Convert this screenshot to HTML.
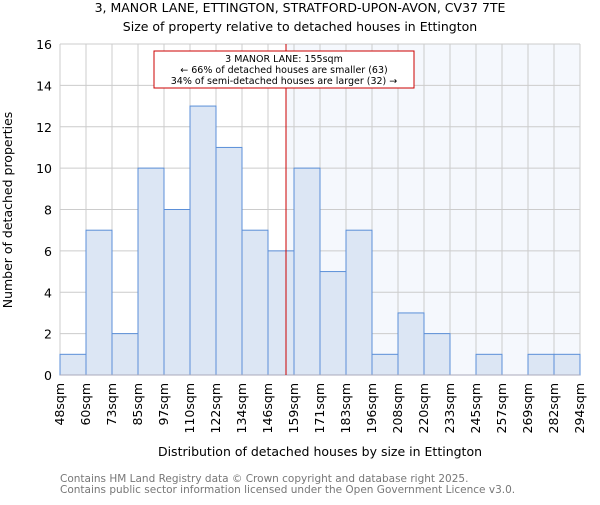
<!DOCTYPE html>
<html><head><meta charset="utf-8"><style>body{margin:0;background:#fff}svg{font-family:"DejaVu Sans","Liberation Sans",sans-serif}</style></head>
<body>
<svg id="chart" width="600" height="500">
<text x="300" y="12" text-anchor="middle" font-size="12.5">3, MANOR LANE, ETTINGTON, STRATFORD-UPON-AVON, CV37 7TE</text>
<text x="300" y="31" text-anchor="middle" font-size="12.5">Size of property relative to detached houses in Ettington</text>
<g id="g"></g>
<text x="12" y="210" transform="rotate(-90 12 210)" text-anchor="middle" font-size="12.5">Number of detached properties</text>
<text x="320" y="456" text-anchor="middle" font-size="12.5">Distribution of detached houses by size in Ettington</text>
<text x="60" y="482" font-size="10.5" fill="#777">Contains HM Land Registry data © Crown copyright and database right 2025.</text>
<text x="60" y="493" font-size="10.5" fill="#777">Contains public sector information licensed under the Open Government Licence v3.0.</text>
</svg>
<script>
const labels=["48sqm","60sqm","73sqm","85sqm","97sqm","110sqm","122sqm","134sqm","146sqm","159sqm","171sqm","183sqm","196sqm","208sqm","220sqm","233sqm","245sqm","257sqm","269sqm","282sqm","294sqm"];
const edges=[48,60,73,85,97,110,122,134,146,159,171,183,196,208,220,233,245,257,269,282,294];
const counts=[1,7,2,10,8,13,11,7,6,10,5,7,1,3,2,0,1,0,1,1];
const yTicks=[0,2,4,6,8,10,12,14,16];
const marker=155;
const X0=60,X1=580,Y0=375,Y1=44,NS="http://www.w3.org/2000/svg";
const n=counts.length,bw=(X1-X0)/n;
const xi=i=>X0+i*bw;
const y=v=>Y0-(v/16)*(Y0-Y1);
function xv(v){for(let i=0;i<edges.length-1;i++){if(v<=edges[i+1])return xi(i)+(v-edges[i])/(edges[i+1]-edges[i])*bw;}return X1;}
const g=document.getElementById('g');
function mk(t,a,p){const e=document.createElementNS(NS,t);for(const k in a)e.setAttribute(k,a[k]);(p||g).appendChild(e);return e;}
const mx=xv(marker);
let r=mk('rect',{x:mx,y:Y1,width:X1-mx,height:Y0-Y1,fill:'#f5f8fd'});


for(let i=0;i<=n;i++){const l=mk('line',{x1:xi(i),x2:xi(i),y1:Y1,y2:Y0,stroke:'#ccc'});}
yTicks.forEach(t=>{const l=mk('line',{x1:X0,x2:X1,y1:y(t),y2:y(t),stroke:'#ccc'});
const tx=mk('text',{x:X0-8,y:y(t)+5,'text-anchor':'end','font-size':'12.5'});tx.textContent=t;});
counts.forEach((c,i)=>{if(c<=0)return;const b=mk('rect',{x:xi(i),y:y(c),width:bw,height:Y0-y(c),fill:'#dce6f4',stroke:'#5b8fd8','stroke-width':1});});
labels.forEach((s,i)=>{const x=xi(i)+4;const t=mk('text',{x:x,y:383,transform:`rotate(-90 ${x} 383)`,'text-anchor':'end','font-size':'12.5'});t.textContent=s;});
const ax=mk('line',{x1:X0,x2:X1,y1:Y0,y2:Y0,stroke:'#aab'});
const ml=mk('line',{x1:mx,x2:mx,y1:Y1,y2:Y0,stroke:'#cc0000','stroke-width':1});
const box=mk('rect',{x:154,y:51,width:260,height:37,fill:'#fff',stroke:'#cc0000'});
["3 MANOR LANE: 155sqm","← 66% of detached houses are smaller (63)","34% of semi-detached houses are larger (32) →"].forEach((s,i)=>{const t=mk('text',{x:284,y:62+i*11,'text-anchor':'middle','font-size':'9.5'});t.textContent=s;});
</script>
</body></html>
